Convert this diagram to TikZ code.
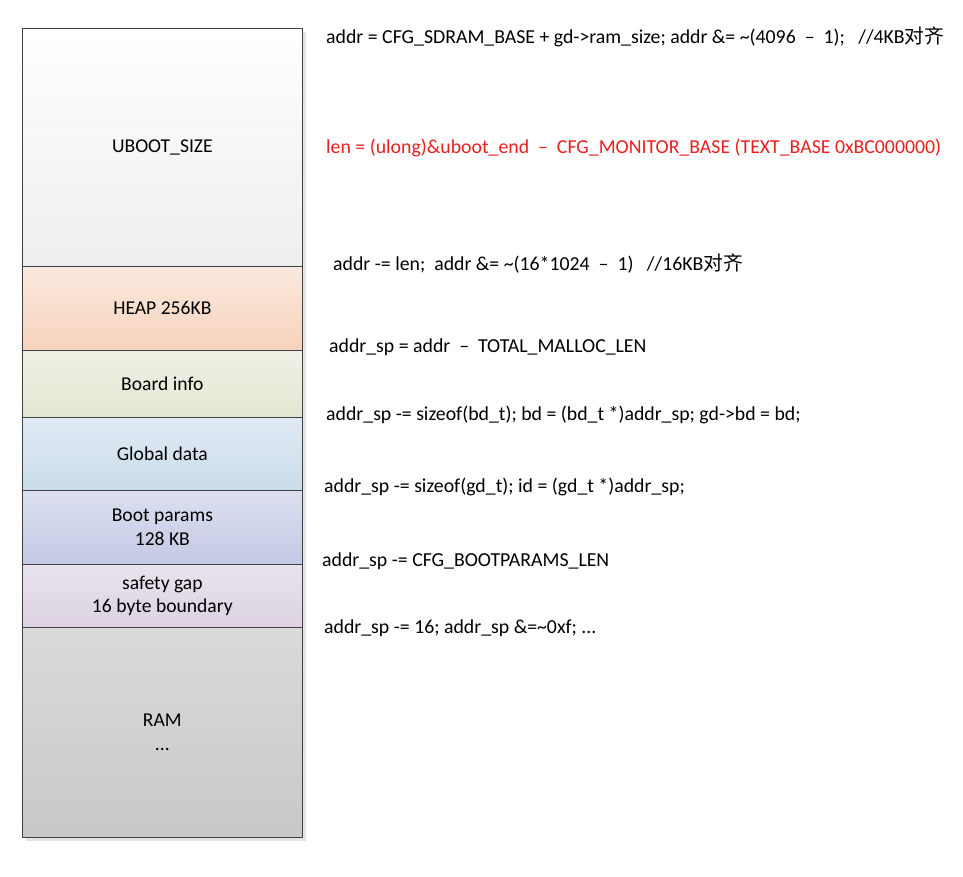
\documentclass[tikz,border=0pt]{standalone}
\usepackage{fontspec}
\setmainfont{Carlito}
\newfontfamily\cjk{Noto Sans CJK SC}
\usetikzlibrary{positioning}

\definecolor{uboottop}{HTML}{FFFFFF}
\definecolor{ubootbot}{HTML}{EEEEEE}
\definecolor{heaptop}{HTML}{FBEADF}
\definecolor{heapbot}{HTML}{F6D2BC}
\definecolor{boardtop}{HTML}{EFF1E5}
\definecolor{boardbot}{HTML}{E2E7D2}
\definecolor{globtop}{HTML}{E1EAF4}
\definecolor{globbot}{HTML}{C9DCEA}
\definecolor{boottop}{HTML}{DCDFF0}
\definecolor{bootbot}{HTML}{C3C9E4}
\definecolor{gaptop}{HTML}{E9E3ED}
\definecolor{gapbot}{HTML}{DCD2E2}
\definecolor{ramtop}{HTML}{DADADA}
\definecolor{rambot}{HTML}{C8C8C8}
\definecolor{codered}{HTML}{E8201E}

\begin{document}
\begin{tikzpicture}[x=1pt,y=-1pt]
\tikzstyle{every node}+=[inner sep=0pt]
\tikzstyle{mem}=[draw=black!75,line width=0.7pt,minimum width=280pt,anchor=north west,align=center,font=\fontsize{19.6}{23.5}\selectfont]
\tikzstyle{code}=[anchor=west,font=\fontsize{19.8}{23}\selectfont]
\useasboundingbox (0,0) rectangle (963,876);
% shadow
\fill [black!10] (26,32) rectangle (306,841);
% memory map
\node [mem,minimum height=238pt,top color=uboottop,bottom color=ubootbot] (uboot) at (22,28) {UBOOT\_SIZE};
\node [mem,minimum height=84pt,top color=heaptop,bottom color=heapbot] (heap) at (22,266) {HEAP 256KB};
\node [mem,minimum height=67pt,top color=boardtop,bottom color=boardbot] (board) at (22,350) {Board info};
\node [mem,minimum height=73pt,top color=globtop,bottom color=globbot] (glob) at (22,417) {Global data};
\node [mem,minimum height=74pt,top color=boottop,bottom color=bootbot] (boot) at (22,490) {Boot params\\128 KB};
\node [mem,minimum height=63pt,top color=gaptop,bottom color=gapbot] (gap) at (22,564) {safety gap\\16 byte boundary};
\node [mem,minimum height=210pt,top color=ramtop,bottom color=rambot] (ram) at (22,627) {RAM\\...};
% code
\node [code] (c1) at (326,37) {addr = CFG\_SDRAM\_BASE + gd->ram\_size; addr \&= \textasciitilde(4096~~–~~1);~~~//4KB{\cjk 对齐}};
\node [code,text=codered] (c2) at (326,148) {len = (ulong)\&uboot\_end~~–~~CFG\_MONITOR\_BASE (TEXT\_BASE 0xBC000000)};
\node [code] (c3) at (333,264) {addr -= len;~~addr \&= \textasciitilde(16*1024~~–~~1)~~~//16KB{\cjk 对齐}};
\node [code] (c4) at (329,347) {addr\_sp = addr~~–~~TOTAL\_MALLOC\_LEN};
\node [code] (c5) at (326,415) {addr\_sp -= sizeof(bd\_t); bd = (bd\_t *)addr\_sp; gd->bd = bd;};
\node [code] (c6) at (324,487) {addr\_sp -= sizeof(gd\_t); id = (gd\_t *)addr\_sp;};
\node [code] (c7) at (322,561) {addr\_sp -= CFG\_BOOTPARAMS\_LEN};
\node [code] (c8) at (324,628) {addr\_sp -= 16; addr\_sp \&=\textasciitilde0xf; ...};
\end{tikzpicture}
\end{document}
